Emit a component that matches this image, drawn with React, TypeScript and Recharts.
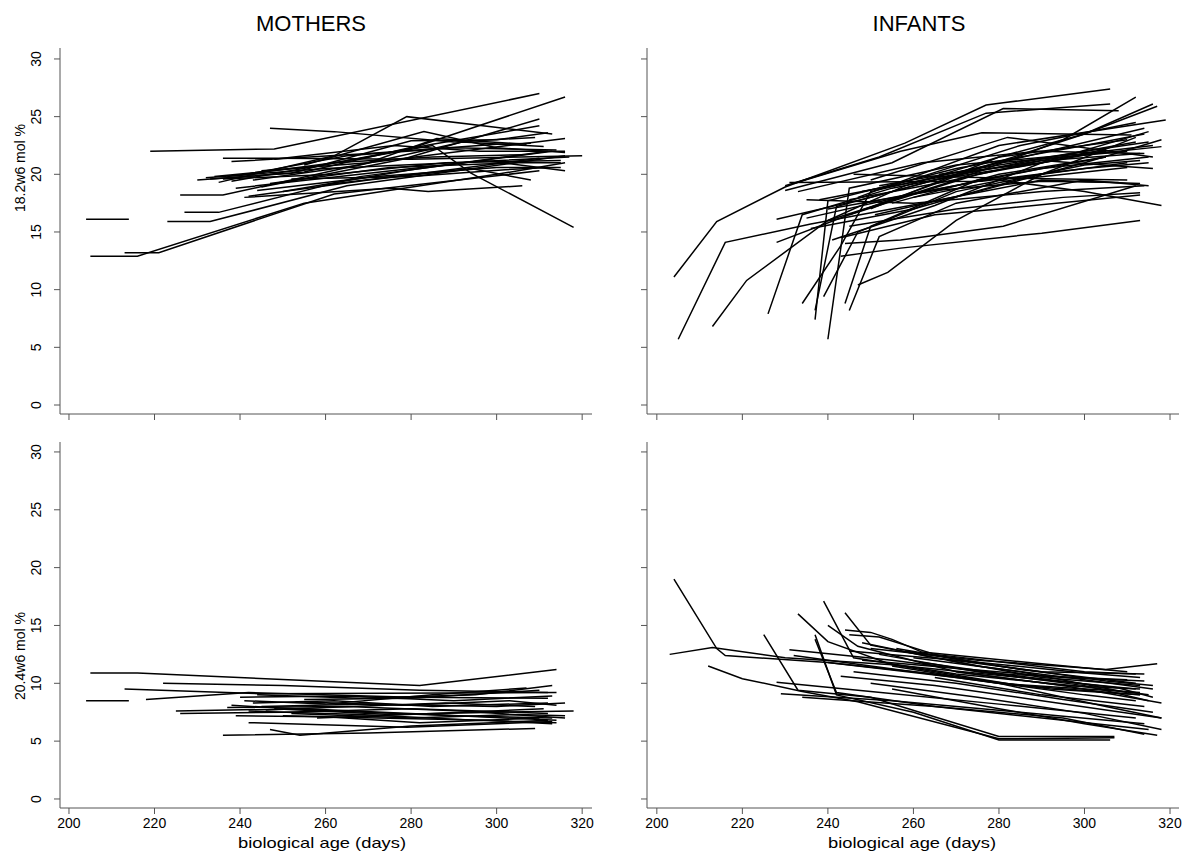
import React from "react";
import { Line, LineChart, XAxis, YAxis } from "recharts";

type Pt = [number, number];

const X_TICKS = [200, 220, 240, 260, 280, 300, 320];
const Y_TICKS = [0, 5, 10, 15, 20, 25, 30];

// 18:2w6, mothers: [biological age (days), mol %]
const mothers182: Pt[][] = [
  [[204, 16.1], [214, 16.1]],
  [[205, 12.9], [216, 12.9], [255, 17.5], [300, 20.0], [316, 21.0]],
  [[213, 13.2], [221, 13.2], [262, 18.3], [310, 20.3]],
  [[219, 22.0], [248, 22.2], [310, 27.0]],
  [[235, 19.3], [262, 21.6], [279, 25.0], [313, 23.5]],
  [[247, 24.0], [262, 23.7], [290, 22.8], [309, 23.2]],
  [[226, 18.2], [236, 18.2], [270, 21.0], [316, 23.1]],
  [[227, 16.7], [235, 16.7], [268, 19.8], [313, 22.0]],
  [[223, 15.9], [233, 15.9], [265, 19.0], [316, 21.6]],
  [[236, 21.4], [249, 21.4], [280, 21.3], [320, 21.6]],
  [[238, 21.1], [270, 21.8], [300, 22.6], [308, 22.7]],
  [[230, 19.5], [255, 20.2], [282, 22.5], [316, 26.7]],
  [[232, 19.7], [260, 20.5], [290, 21.0], [317, 21.5]],
  [[234, 19.8], [258, 20.7], [285, 22.6], [310, 24.2]],
  [[236, 19.6], [262, 20.0], [288, 21.0], [315, 21.2]],
  [[238, 19.4], [285, 22.5], [294, 20.1], [318, 15.4]],
  [[239, 18.8], [268, 20.0], [297, 21.2], [316, 20.3]],
  [[241, 18.0], [275, 18.8], [284, 18.5], [306, 19.0]],
  [[242, 18.1], [270, 19.5], [294, 20.5], [308, 19.5]],
  [[244, 18.6], [272, 19.8], [300, 20.6], [315, 20.6]],
  [[245, 18.9], [278, 21.3], [310, 24.8]],
  [[247, 19.2], [275, 20.6], [305, 21.0], [315, 21.0]],
  [[240, 19.9], [265, 21.6], [290, 22.3], [314, 22.1]],
  [[250, 18.5], [280, 20.4], [312, 22.0]],
  [[233, 19.6], [252, 20.1], [280, 22.9], [300, 23.0], [312, 23.6]],
  [[255, 20.8], [283, 23.7], [300, 22.3], [316, 21.9]],
  [[245, 20.3], [270, 21.0], [286, 23.1], [307, 22.6]],
  [[260, 19.1], [285, 20.2], [310, 21.4]],
  [[237, 19.8], [262, 21.0], [285, 21.5], [306, 21.7]],
  [[248, 21.3], [276, 22.5], [296, 22.0], [316, 22.0]],
  [[252, 19.6], [280, 19.8], [302, 20.4], [312, 20.6]],
  [[243, 19.5], [268, 20.8], [292, 22.8], [311, 22.4]],
];

// 18:2w6, infants
const infants182: Pt[][] = [
  [[204, 11.1], [214, 15.9], [230, 18.9], [258, 22.7], [277, 26.0], [281, 26.2], [306, 27.4]],
  [[205, 5.7], [216, 14.1], [236, 15.7], [262, 17.5], [290, 19.5], [313, 19.2]],
  [[213, 6.8], [221, 10.8], [240, 16.0], [258, 19.0], [280, 21.5], [310, 23.0]],
  [[226, 7.9], [234, 16.5], [255, 18.8], [285, 21.0], [312, 22.8]],
  [[234, 8.8], [243, 13.8], [250, 18.5], [280, 21.0], [314, 24.0]],
  [[237, 7.4], [240, 17.7], [270, 20.5], [300, 22.5], [314, 23.5]],
  [[237, 8.2], [242, 17.2], [265, 19.5], [295, 21.3], [313, 21.8]],
  [[240, 5.7], [245, 18.8], [270, 20.8], [300, 21.8], [316, 22.5]],
  [[239, 9.4], [247, 15.0], [270, 18.5], [300, 20.8], [313, 21.2]],
  [[244, 8.8], [250, 15.5], [275, 19.5], [305, 21.5]],
  [[245, 8.2], [252, 14.6], [270, 17.5], [300, 19.5], [315, 19.0]],
  [[247, 10.4], [254, 11.5], [270, 16.0], [290, 20.0], [312, 23.2]],
  [[230, 19.0], [252, 21.5], [277, 25.3], [306, 26.1]],
  [[230, 18.6], [255, 21.0], [281, 25.7], [308, 25.5]],
  [[228, 16.1], [250, 18.0], [280, 21.0], [310, 22.0]],
  [[228, 14.1], [245, 16.5], [275, 20.0], [305, 22.0]],
  [[235, 16.2], [260, 18.3], [290, 20.5], [315, 21.5]],
  [[243, 14.5], [265, 16.5], [280, 17.0], [313, 18.2]],
  [[243, 12.9], [257, 13.6], [290, 14.9], [313, 16.0]],
  [[244, 14.0], [257, 14.3], [281, 15.5], [312, 19.0]],
  [[248, 17.5], [278, 19.6], [300, 18.5], [318, 17.3]],
  [[240, 16.0], [270, 19.5], [295, 23.0], [312, 26.7]],
  [[245, 16.5], [275, 20.5], [300, 23.5], [316, 26.1]],
  [[250, 17.0], [280, 21.5], [300, 23.5], [317, 25.9]],
  [[247, 18.0], [280, 22.5], [319, 24.7]],
  [[241, 14.3], [265, 17.3], [290, 21.0], [315, 23.7]],
  [[232, 19.2], [257, 22.0], [276, 23.6], [311, 23.4]],
  [[250, 19.5], [282, 23.2], [316, 21.5]],
  [[235, 17.8], [260, 17.5], [290, 18.5], [314, 19.0]],
  [[245, 15.5], [270, 17.0], [295, 18.0], [313, 18.4]],
  [[240, 17.0], [265, 18.6], [290, 19.4], [308, 19.3]],
  [[248, 18.5], [270, 20.0], [295, 21.5], [318, 22.4]],
  [[252, 19.0], [275, 20.5], [300, 22.0], [315, 22.8]],
  [[255, 17.5], [280, 20.0], [305, 21.5]],
  [[236, 15.3], [260, 17.0], [285, 19.6], [310, 20.6]],
  [[245, 17.8], [268, 19.4], [290, 21.2], [316, 20.5]],
  [[260, 18.0], [282, 19.6], [310, 21.0]],
  [[233, 18.5], [262, 21.0], [289, 22.0], [314, 21.8]],
  [[238, 17.8], [255, 19.0], [285, 22.5], [312, 24.5]],
  [[251, 16.5], [275, 18.5], [300, 21.0], [318, 23.0]],
  [[266, 20.0], [290, 21.0], [305, 22.2]],
  [[231, 19.3], [276, 19.4], [300, 20.5], [315, 21.0]],
  [[246, 20.0], [277, 19.7], [310, 19.5]],
];

// 20:4w6, mothers
const mothers204: Pt[][] = [
  [[205, 10.9], [216, 10.9], [282, 9.8], [314, 11.2]],
  [[204, 8.5], [214, 8.5]],
  [[222, 10.0], [250, 9.8], [282, 9.4], [312, 9.2]],
  [[213, 9.5], [245, 9.1], [314, 9.2]],
  [[218, 8.6], [242, 9.2], [280, 8.8], [312, 8.7]],
  [[225, 7.6], [255, 7.8], [285, 7.3], [314, 6.8]],
  [[226, 7.4], [250, 7.5], [280, 7.8], [312, 7.4]],
  [[236, 5.5], [270, 5.7], [309, 6.1]],
  [[247, 6.0], [254, 5.5], [280, 6.3], [312, 6.8]],
  [[242, 6.6], [279, 6.2], [313, 6.7]],
  [[240, 8.8], [265, 8.9], [290, 8.5], [313, 8.9]],
  [[243, 8.3], [262, 8.5], [285, 8.0], [312, 8.3]],
  [[245, 8.0], [270, 8.2], [300, 8.0], [316, 8.3]],
  [[238, 8.1], [262, 7.6], [290, 7.2], [313, 7.0]],
  [[248, 7.8], [275, 7.3], [300, 7.5], [318, 7.6]],
  [[250, 7.2], [272, 7.0], [298, 6.8], [313, 6.5]],
  [[246, 7.7], [266, 8.0], [288, 8.3], [309, 8.0]],
  [[241, 8.5], [260, 8.2], [285, 9.0], [307, 9.6]],
  [[255, 8.6], [280, 8.7], [310, 9.4]],
  [[252, 7.4], [280, 7.0], [305, 7.3], [316, 7.2]],
  [[242, 7.6], [268, 7.3], [295, 6.8], [314, 6.6]],
  [[244, 9.0], [268, 8.7], [295, 9.0], [313, 9.8]],
  [[237, 7.9], [265, 8.0], [292, 7.6], [316, 7.0]],
  [[258, 7.0], [285, 7.4], [311, 7.8]],
  [[239, 7.2], [260, 7.1], [282, 6.6], [310, 7.0]],
  [[253, 8.4], [278, 8.1], [303, 8.5], [314, 8.1]],
];

// 20:4w6, infants
const infants204: Pt[][] = [
  [[204, 19.0], [214, 13.0], [216, 12.4], [240, 11.8], [270, 10.5], [300, 9.0], [312, 8.5]],
  [[203, 12.5], [213, 13.1], [230, 12.2], [255, 11.6], [285, 10.5], [312, 9.5]],
  [[212, 11.5], [220, 10.4], [234, 9.3], [247, 8.4], [280, 5.2], [307, 5.3]],
  [[225, 14.2], [233, 9.4], [250, 8.8], [280, 5.4], [307, 5.4]],
  [[237, 14.2], [242, 9.0], [260, 7.5], [280, 5.1], [306, 5.1]],
  [[237, 13.8], [242, 9.2], [265, 8.0], [295, 7.0], [314, 5.6]],
  [[233, 16.0], [240, 13.6], [255, 11.6], [285, 9.8], [313, 9.0]],
  [[239, 17.1], [246, 12.2], [270, 10.8], [300, 9.7], [315, 9.0]],
  [[244, 16.1], [250, 13.3], [275, 11.5], [300, 10.3], [316, 9.5]],
  [[240, 15.0], [247, 13.2], [270, 11.0], [295, 9.8], [313, 9.5]],
  [[244, 14.6], [250, 14.4], [255, 13.8], [262, 12.7], [301, 11.3], [310, 11.0]],
  [[245, 14.2], [252, 14.0], [265, 12.5], [300, 11.0], [312, 10.8]],
  [[250, 13.0], [275, 12.0], [305, 11.2], [317, 11.7]],
  [[231, 12.9], [255, 12.0], [280, 10.8], [310, 10.3]],
  [[232, 12.4], [250, 11.5], [280, 10.0], [313, 9.2]],
  [[228, 10.1], [250, 9.3], [280, 8.2], [312, 7.0]],
  [[229, 9.1], [255, 8.5], [285, 7.5], [314, 6.5]],
  [[234, 8.8], [265, 8.0], [295, 6.8], [315, 6.0]],
  [[243, 10.6], [265, 9.8], [290, 8.5], [318, 7.0]],
  [[248, 12.0], [270, 11.3], [295, 10.5], [314, 10.2]],
  [[252, 12.5], [275, 11.0], [300, 9.8], [315, 8.5]],
  [[255, 11.5], [280, 10.0], [305, 8.0], [318, 7.0]],
  [[246, 11.0], [270, 10.0], [295, 8.6], [316, 7.5]],
  [[258, 12.8], [285, 11.2], [312, 10.0]],
  [[262, 11.8], [285, 10.6], [308, 9.6], [316, 8.8]],
  [[250, 10.0], [275, 8.8], [300, 7.4], [318, 6.0]],
  [[265, 10.5], [290, 9.0], [314, 8.0]],
  [[240, 11.8], [265, 10.8], [292, 9.5], [313, 9.0]],
  [[268, 12.0], [290, 10.5], [313, 9.8]],
  [[255, 9.5], [280, 7.8], [300, 6.5], [317, 5.5]],
  [[245, 12.8], [270, 12.0], [300, 10.9], [313, 10.5]],
  [[270, 11.0], [295, 9.8], [318, 8.3]],
  [[248, 13.5], [265, 12.2], [290, 11.0], [314, 10.8]],
  [[256, 13.0], [280, 11.5], [305, 10.2], [316, 9.8]],
  [[260, 12.2], [285, 11.0], [310, 9.2]],
];

const FONT = "'Liberation Sans', Arial, sans-serif";
const AXIS = "#555";
const W = 1182;
const H = 856;

type Box = { left: number; right: number; top: number; bottom: number };

const noTick = () => <g />;

const xTick = (props: any) => (
  <text
    x={props.x}
    y={props.y + 2}
    dy="0.71em"
    textAnchor="middle"
    fontSize={14}
    fontFamily={FONT}
    fill="#000"
  >
    {props.payload.value}
  </text>
);

const yTick = (props: any) => (
  <text
    x={36}
    y={props.y}
    dy="0.35em"
    transform={`rotate(-90 36 ${props.y})`}
    textAnchor="middle"
    fontSize={14}
    fontFamily={FONT}
    fill="#000"
  >
    {props.payload.value}
  </text>
);

function Panel({
  series,
  box,
  xDomain,
  yDomain,
  xLabels,
  yLabels,
}: {
  series: Pt[][];
  box: Box;
  xDomain: [number, number];
  yDomain: [number, number];
  xLabels: boolean;
  yLabels: boolean;
}) {
  return (
    <div style={{ position: "absolute", left: 0, top: 0 }}>
      <LineChart
        width={W}
        height={H}
        margin={{
          top: box.top,
          left: box.left - 60,
          right: W - box.right,
          bottom: H - box.bottom - 30,
        }}
      >
        <XAxis
          type="number"
          dataKey="x"
          domain={xDomain}
          ticks={X_TICKS}
          interval={0}
          allowDataOverflow
          height={30}
          stroke={AXIS}
          tickSize={6}
          tick={xLabels ? xTick : noTick}
        />
        <YAxis
          type="number"
          domain={yDomain}
          ticks={Y_TICKS}
          interval={0}
          allowDataOverflow
          width={60}
          stroke={AXIS}
          tickSize={6}
          tick={yLabels ? yTick : noTick}
        />
        {series.map((s, i) => (
          <Line
            key={i}
            data={s.map(([x, y]) => ({ x, y }))}
            dataKey="y"
            type="linear"
            dot={false}
            activeDot={false}
            stroke="#000"
            strokeWidth={1.5}
            isAnimationActive={false}
          />
        ))}
      </LineChart>
    </div>
  );
}

export default function App() {
  const leftX: [number, number] = [197.9, 322.3];
  const rightX: [number, number] = [197.7, 322.1];
  const topY: [number, number] = [-0.78, 30.95];
  const botY: [number, number] = [-0.78, 30.86];

  return (
    <div
      style={{
        position: "absolute",
        left: 0,
        top: 0,
        width: W,
        height: H,
        background: "#fff",
        fontFamily: FONT,
      }}
    >
      <Panel
        series={mothers182}
        box={{ left: 60, right: 592, top: 48, bottom: 414 }}
        xDomain={leftX}
        yDomain={topY}
        xLabels={false}
        yLabels
      />
      <Panel
        series={infants182}
        box={{ left: 647, right: 1179, top: 48, bottom: 414 }}
        xDomain={rightX}
        yDomain={topY}
        xLabels={false}
        yLabels={false}
      />
      <Panel
        series={mothers204}
        box={{ left: 60, right: 592, top: 442, bottom: 808 }}
        xDomain={leftX}
        yDomain={botY}
        xLabels
        yLabels
      />
      <Panel
        series={infants204}
        box={{ left: 647, right: 1179, top: 442, bottom: 808 }}
        xDomain={rightX}
        yDomain={botY}
        xLabels
        yLabels={false}
      />
      <svg
        width={W}
        height={H}
        style={{ position: "absolute", left: 0, top: 0, pointerEvents: "none" }}
        fontFamily={FONT}
      >
        <text x={311} y={31} textAnchor="middle" fontSize={22}>
          MOTHERS
        </text>
        <text x={919} y={31} textAnchor="middle" fontSize={22}>
          INFANTS
        </text>
        <text
          x={20}
          y={168}
          transform="rotate(-90 20 168)"
          textAnchor="middle"
          dy="0.35em"
          fontSize={14}
        >
          18.2w6 mol %
        </text>
        <text
          x={20}
          y={656}
          transform="rotate(-90 20 656)"
          textAnchor="middle"
          dy="0.35em"
          fontSize={14}
        >
          20.4w6 mol %
        </text>
        <text
          x={322}
          y={848}
          textAnchor="middle"
          fontSize={15}
          textLength={168}
          lengthAdjust="spacingAndGlyphs"
        >
          biological age (days)
        </text>
        <text
          x={912}
          y={848}
          textAnchor="middle"
          fontSize={15}
          textLength={168}
          lengthAdjust="spacingAndGlyphs"
        >
          biological age (days)
        </text>
      </svg>
    </div>
  );
}
